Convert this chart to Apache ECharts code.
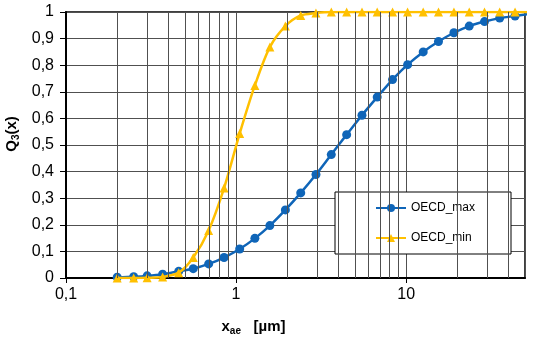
<!DOCTYPE html>
<html>
<head>
<meta charset="utf-8">
<script src="https://cdn.jsdelivr.net/npm/echarts@6/dist/echarts.min.js"></script>
<style>
  html, body { margin: 0; padding: 0; background: #fff; }
  #chart { width: 536px; height: 341px; }
</style>
</head>
<body>
<div id="chart"></div>
<script>
// particle size distribution, OECD limits

var sizes = [0.2, 0.25, 0.3, 0.37, 0.46, 0.56, 0.69, 0.85, 1.05, 1.29, 1.58, 1.95, 2.4, 2.95,
  3.63, 4.47, 5.5, 6.76, 8.32, 10.2, 12.6, 15.5, 19.1, 23.5, 28.9, 35.5, 43.7, 53.8];

var oecdMax = [0.003, 0.005, 0.008, 0.014, 0.025, 0.035, 0.053, 0.077, 0.109, 0.149, 0.197, 0.256, 0.32, 0.389,
  0.464, 0.539, 0.612, 0.68, 0.746, 0.802, 0.85, 0.889, 0.922, 0.947, 0.964, 0.977, 0.985, 0.993];

var oecdMin = [0, 0, 0.001, 0.004, 0.02, 0.077, 0.179, 0.338, 0.543, 0.724, 0.868, 0.947, 0.987, 0.996,
  1, 1, 1, 1, 1, 1, 1, 1, 1, 1, 1, 1, 1, 1];

// vertical grid lines between the decades
var minorGrid = [0.2, 0.3, 0.4, 0.5, 0.6, 0.7, 0.8, 0.9, 2, 3, 4, 5, 6, 7, 8, 9, 20, 30, 40];

var font = "'Liberation Sans', Arial, sans-serif";
var gridColor = '#505050';

function pairs(ys) {
  return sizes.map(function (x, i) { return [x, ys[i]]; });
}

function comma(v) {
  return String(v).replace('.', ',');
}

var titleRich = {
  b: { fontSize: 15, fontWeight: 'bold', color: '#000', lineHeight: 18, fontFamily: font },
  s: { fontSize: 10, fontWeight: 'bold', color: '#000', lineHeight: 10, verticalAlign: 'bottom', fontFamily: font }
};

var chart = echarts.init(document.getElementById('chart'));

var option = {
  animation: false,
  textStyle: { fontFamily: font },
  grid: {
    left: 66, right: 11, top: 12, bottom: 63,
    containLabel: false,
    outerBoundsMode: 'none',
    show: true, borderColor: '#000', borderWidth: 1.5
  },
  legend: {
    orient: 'vertical',
    left: 335, top: 192,
    padding: [10, 36, 10, 40],
    itemGap: 18,
    itemWidth: 30,
    itemHeight: 10,
    backgroundColor: '#fff',
    borderColor: '#000',
    borderWidth: 1,
    textStyle: { fontSize: 12, color: '#000', fontFamily: font },
    data: ['OECD_max', 'OECD_min']
  },
  xAxis: {
    type: 'log',
    logBase: 10,
    min: 0.1,
    max: 50,
    name: '{b|x}{s|ae}{b|   [µm]}',
    nameLocation: 'middle',
    nameGap: 40,
    nameTextStyle: { padding: [0, 84, 0, 0], rich: titleRich },
    axisLine: { lineStyle: { color: '#000', width: 2 } },
    axisTick: { show: true, length: 5, lineStyle: { color: '#000' } },
    axisLabel: {
      fontSize: 16, color: '#000', margin: 9, showMaxLabel: false,
      formatter: function (v) { return comma(v); }
    },
    splitLine: { show: true, lineStyle: { color: gridColor, width: 1 } }
  },
  yAxis: {
    type: 'value',
    min: 0,
    max: 1,
    interval: 0.1,
    name: '{b|Q}{s|3}{b|(x)}',
    nameLocation: 'middle',
    nameRotate: 90,
    nameGap: 45,
    nameTextStyle: { padding: [0, 0, 0, 22], rich: titleRich },
    axisLine: { show: true, lineStyle: { color: '#000', width: 2 } },
    axisTick: { show: true, length: 6, lineStyle: { color: '#000' } },
    axisLabel: {
      fontSize: 16, color: '#000', margin: 12,
      formatter: function (v) { return comma(Math.round(v * 10) / 10); }
    },
    splitLine: { show: true, lineStyle: { color: gridColor, width: 1 } }
  },
  series: [
    {
      name: 'grid',
      type: 'line',
      data: [[1, 0]],
      showSymbol: false,
      symbol: 'none',
      lineStyle: { opacity: 0 },
      silent: true,
      z: 1,
      markLine: {
        silent: true,
        symbol: 'none',
        label: { show: false },
        lineStyle: { color: gridColor, width: 1, type: 'solid' },
        data: minorGrid.map(function (v) { return { xAxis: v }; })
      }
    },
    {
      name: 'OECD_max',
      type: 'line',
      data: pairs(oecdMax),
      smooth: 0.3,
      symbol: 'circle',
      symbolSize: 9,
      color: '#0F65B8',
      lineStyle: { width: 2.5 },
      z: 3
    },
    {
      name: 'OECD_min',
      type: 'line',
      data: pairs(oecdMin),
      smooth: 0.3,
      symbol: 'triangle',
      symbolSize: 9,
      color: '#FFC000',
      lineStyle: { width: 2.5 },
      z: 4
    }
  ]
};

chart.setOption(option);
</script>
</body>
</html>
